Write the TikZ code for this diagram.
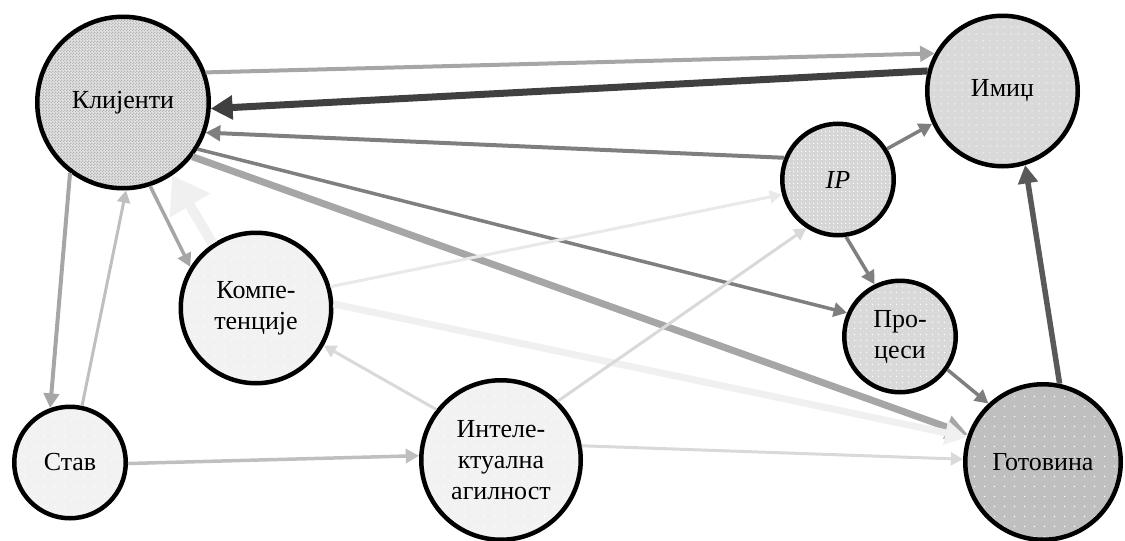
\documentclass[tikz,border=0pt]{standalone}
\usepackage{fontspec}
\setmainfont{Liberation Serif}
\usetikzlibrary{arrows.meta,patterns}

% fill textures
\pgfdeclarepatternformonly{checker}{\pgfpointorigin}{\pgfpoint{3pt}{3pt}}{\pgfpoint{3pt}{3pt}}{%
  \pgfpathrectangle{\pgfpointorigin}{\pgfpoint{1.5pt}{1.5pt}}%
  \pgfpathrectangle{\pgfpoint{1.5pt}{1.5pt}}{\pgfpoint{1.5pt}{1.5pt}}%
  \pgfusepath{fill}}
\pgfdeclarepatternformonly{dotsfine}{\pgfpointorigin}{\pgfpoint{4pt}{4pt}}{\pgfpoint{4pt}{4pt}}{%
  \pgfpathcircle{\pgfpoint{2pt}{2pt}}{0.7pt}\pgfusepath{fill}}
\pgfdeclarepatternformonly{dotssix}{\pgfpointorigin}{\pgfpoint{6pt}{6pt}}{\pgfpoint{6pt}{6pt}}{%
  \pgfpathcircle{\pgfpoint{3pt}{3pt}}{0.8pt}\pgfusepath{fill}}
\pgfdeclarepatternformonly{dotsseven}{\pgfpointorigin}{\pgfpoint{7pt}{7pt}}{\pgfpoint{7pt}{7pt}}{%
  \pgfpathcircle{\pgfpoint{3.5pt}{3.5pt}}{0.8pt}\pgfusepath{fill}}
\pgfdeclarepatternformonly{dotswide}{\pgfpointorigin}{\pgfpoint{10pt}{10pt}}{\pgfpoint{10pt}{10pt}}{%
  \pgfpathcircle{\pgfpoint{5pt}{5pt}}{0.9pt}\pgfusepath{fill}}

\definecolor{gk1}{HTML}{E2E2E2}
\definecolor{gk2}{HTML}{B4B4B4}
\definecolor{gmid}{HTML}{D9D9D9}
\definecolor{gip}{HTML}{D6D6D6}
\definecolor{glight}{HTML}{F2F2F2}
\definecolor{gdark}{HTML}{BFBFBF}
\definecolor{c40}{HTML}{404040}
\definecolor{c59}{HTML}{595959}
\definecolor{c7f}{HTML}{7F7F7F}
\definecolor{ca6}{HTML}{A6A6A6}
\definecolor{cbf}{HTML}{BFBFBF}
\definecolor{cd9}{HTML}{D9D9D9}
\definecolor{ce9}{HTML}{E9E9E9}
\definecolor{cf0}{HTML}{F0F0F0}

\tikzset{
  bub/.style={circle, draw=black, line width=4.5pt, align=center, inner sep=0pt,
    font=\fontsize{26}{31}\selectfont},
  conn/.style={-{Triangle[length=5pt 2.4, width=5pt 2.6]}},
  bigconn/.style={-{Triangle[length=35pt, width=45pt]}},
}

\begin{document}
\begin{tikzpicture}[x=1pt,y=-1pt]
\useasboundingbox (0,0) rectangle (1125,541);

% concepts
\node[bub, minimum size=171.5pt, preaction={fill=gk1}, pattern=checker, pattern color=gk2] (kl) at (123,102.5) {Клијенти};
\node[bub, minimum size=150.5pt, preaction={fill=gmid}, pattern=dotsseven, pattern color=white] (im) at (1002.5,91) {Имиџ};
\node[bub, minimum size=111.5pt, preaction={fill=gip}, pattern=dotsfine, pattern color=white] (ip) at (838,179.5) {\itshape IP};
\node[bub, minimum size=150.5pt, preaction={fill=glight}, pattern=dotswide, pattern color=white] (co) at (256,308) {Компе-\\тенције};
\node[bub, minimum size=111.5pt, preaction={fill=gmid}, pattern=dotssix, pattern color=white] (pr) at (900,336.5) {Про-\\цеси};
\node[bub, minimum size=111.5pt, preaction={fill=glight}, pattern=dotswide, pattern color=white] (st) at (70,462.5) {Став};
\node[bub, minimum size=159.5pt, preaction={fill=glight}, pattern=dotswide, pattern color=white] (in) at (501,460) {Интеле-\\ктуална\\агилност};
\node[bub, minimum size=155.5pt, preaction={fill=gdark}, pattern=dotswide, pattern color=white] (go) at (1043,462) {Готовина};

% influences
\draw[conn, line width=4pt, draw=ca6] (kl.20) -- (im.151);
\draw[conn, line width=7pt, draw=c40] (im.165) -- (kl.-4);
\draw[conn, line width=4pt, draw=c7f] (ip.158) -- (kl.-20);
\draw[conn, line width=3.5pt, draw=c7f] (kl.-32) -- (pr.156);
\draw[conn, line width=7pt, draw=ca6] (kl.-38) -- (go.160);
\draw[bigconn, line width=10pt, draw=cf0] (co.124) -- (kl.-56);
\draw[conn, line width=7pt, draw=cf0] (co.3) -- (go.162);
\draw[conn, line width=3.5pt, draw=ca6] (kl.-72) -- (co.148);
\draw[conn, line width=4pt, draw=ca6] (kl.-127) -- (st.110);
\draw[conn, line width=3pt, draw=cbf] (st.78) -- (kl.-88);
\draw[conn, line width=3.5pt, draw=cbf] (st.-1) -- (in.177);
\draw[conn, line width=3pt, draw=cd9] (in.142) -- (co.-29);
\draw[conn, line width=3pt, draw=cd9] (in.46) -- (ip.-123);
\draw[conn, line width=3pt, draw=cd9] (in.10) -- (go.178);
\draw[conn, line width=3pt, draw=ce9] (co.16) -- (ip.195);
\draw[conn, line width=3.5pt, draw=c7f] (ip.32) -- (im.205);
\draw[conn, line width=3.5pt, draw=c7f] (ip.-82) -- (pr.116);
\draw[conn, line width=3.5pt, draw=c7f] (pr.-35) -- (go.133);
\draw[conn, line width=5.5pt, draw=c59] (go.78) -- (im.-73);
\end{tikzpicture}
\end{document}
